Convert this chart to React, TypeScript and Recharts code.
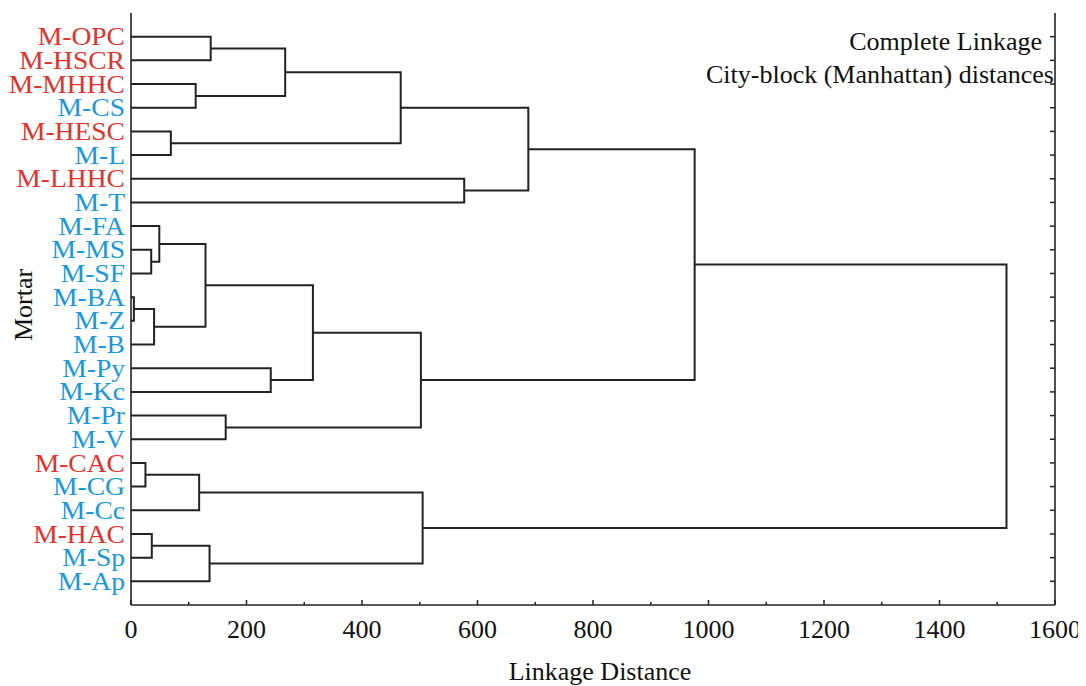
import React from "react";
import { ScatterChart, Scatter, XAxis, YAxis } from "recharts";

// 잎(leaf) 이름과 색 그룹 (r = 빨강, b = 파랑)
const leafNames = [
  "M-OPC", "M-HSCR", "M-MHHC", "M-CS", "M-HESC", "M-L", "M-LHHC", "M-T",
  "M-FA", "M-MS", "M-SF", "M-BA", "M-Z", "M-B", "M-Py", "M-Kc",
  "M-Pr", "M-V", "M-CAC", "M-CG", "M-Cc", "M-HAC", "M-Sp", "M-Ap",
];
const leafGroup = [
  "r", "r", "r", "b", "r", "b", "r", "b",
  "b", "b", "b", "b", "b", "b", "b", "b",
  "b", "b", "r", "b", "b", "r", "b", "b",
];

// 병합 단계: 노드 id 24부터 차례로 생성 (linkage 형식)
const mergeLeft = [11, 18, 9, 21, 24, 8, 4, 2, 25, 29, 27, 0, 16, 14, 35, 33, 38, 39, 32, 6, 40, 44, 45];
const mergeRight = [12, 19, 10, 22, 13, 26, 5, 3, 20, 28, 23, 1, 17, 15, 31, 37, 30, 36, 34, 7, 43, 41, 42];
const mergeHeight = [5, 25, 35, 36, 40, 49, 69, 112, 118, 129, 136, 138, 164, 242, 267, 315, 467, 502, 505, 577, 688, 976, 1516];

const xTicks = [0, 100, 200, 300, 400, 500, 600, 700, 800, 900, 1000, 1100, 1200, 1300, 1400, 1500, 1600];
const xLabeled = [0, 200, 400, 600, 800, 1000, 1200, 1400, 1600];
const yTicks = leafNames.map((_, i) => i + 1);

const groupColor: Record<string, string> = { r: "#e3322c", b: "#1a98dc" };
const FONT = '"Liberation Serif", "Times New Roman", serif';
const INK = "#222";

// 각 병합을 ㄷ자 선분 4점으로 변환
const nodeX: number[] = leafNames.map(() => 0);
const nodeY: number[] = leafNames.map((_, i) => i + 1);
const links = mergeHeight.map((h, k) => {
  const a = mergeLeft[k];
  const b = mergeRight[k];
  nodeX.push(h);
  nodeY.push((nodeY[a] + nodeY[b]) / 2);
  return [
    { x: nodeX[a], y: nodeY[a] },
    { x: h, y: nodeY[a] },
    { x: h, y: nodeY[b] },
    { x: nodeX[b], y: nodeY[b] },
  ];
});

const LeafTick = (props: any) => {
  const { x, y, payload } = props;
  const i = payload.value - 1;
  if (i < 0 || i >= leafNames.length) return <g />;
  return (
    <text
      transform={`translate(${x},${y}) scale(1.06,1)`}
      x={0}
      y={0}
      dy="0.33em"
      textAnchor="end"
      fontFamily={FONT}
      fontSize={26}
      fill={groupColor[leafGroup[i]]}
    >
      {leafNames[i]}
    </text>
  );
};

const BottomTick = (props: any) => {
  const { x, y, payload } = props;
  const major = xLabeled.includes(payload.value);
  return (
    <g>
      <line x1={x} x2={x} y1={y} y2={y - (major ? 5 : 3)} stroke={INK} strokeWidth={1.5} />
      {major && (
        <text x={x} y={y + 33} textAnchor="middle" fontFamily={FONT} fontSize={26} fill="#111">
          {payload.value}
        </text>
      )}
    </g>
  );
};

const TopTick = (props: any) => {
  const { x, y } = props;
  return <line x1={x} x2={x} y1={y} y2={y + 3} stroke={INK} strokeWidth={1.5} />;
};

const RightTick = (props: any) => {
  const { x, y } = props;
  return <line x1={x} x2={x - 5} y1={y} y2={y} stroke={INK} strokeWidth={1.5} />;
};

export default function App(): React.ReactElement {
  return (
    <div style={{ position: "relative", width: 1078, height: 678 }}>
      <ScatterChart width={1078} height={678} margin={{ top: 5, right: 30, bottom: 0, left: 0 }}>
        <XAxis
          type="number"
          dataKey="x"
          domain={[0, 1600]}
          ticks={xTicks}
          interval={0}
          allowDataOverflow
          height={81}
          tickSize={0}
          tickMargin={0}
          tickLine={false}
          axisLine={{ stroke: INK, strokeWidth: 1.6 }}
          tick={<BottomTick />}
          label={{
            content: () => (
              <text x={592} y={672} textAnchor="middle" fontFamily={FONT} fontSize={26} fill="#111">
                Linkage Distance
              </text>
            ),
          }}
        />
        <XAxis
          xAxisId="top"
          orientation="top"
          type="number"
          dataKey="x"
          domain={[0, 1600]}
          ticks={xTicks}
          interval={0}
          allowDataOverflow
          height={0}
          tickSize={0}
          tickMargin={0}
          tickLine={false}
          axisLine={{ stroke: INK, strokeWidth: 1.6 }}
          tick={<TopTick />}
        />
        <YAxis
          type="number"
          dataKey="y"
          domain={[0, 25]}
          reversed
          ticks={yTicks}
          interval={0}
          allowDataOverflow
          width={123}
          tickSize={0}
          tickMargin={6}
          tickLine={false}
          axisLine={{ stroke: INK, strokeWidth: 1.6 }}
          tick={<LeafTick />}
          label={{
            content: () => (
              <text
                x={15}
                y={297}
                transform="rotate(-90, 15, 297)"
                textAnchor="middle"
                dominantBaseline="central"
                fontFamily={FONT}
                fontSize={26}
                fill="#111"
              >
                Mortar
              </text>
            ),
          }}
        />
        <YAxis
          yAxisId="right"
          orientation="right"
          type="number"
          dataKey="y"
          domain={[0, 25]}
          reversed
          ticks={yTicks}
          interval={0}
          allowDataOverflow
          width={1}
          tickSize={0}
          tickMargin={0}
          tickLine={false}
          axisLine={{ stroke: INK, strokeWidth: 1.6 }}
          tick={<RightTick />}
        />
        {links.map((pts, k) => (
          <Scatter
            key={k}
            data={pts}
            line={{ stroke: INK, strokeWidth: 2 }}
            lineType="joint"
            shape={() => <g />}
            isAnimationActive={false}
          />
        ))}
      </ScatterChart>
      <svg width={1078} height={678} style={{ position: "absolute", left: 0, top: 0, pointerEvents: "none" }}>
        <text x={1034} y={42} textAnchor="end" fontFamily={FONT} fontSize={26} fill="#111">
          Complete Linkage
        </text>
        <text x={1046} y={75} textAnchor="end" fontFamily={FONT} fontSize={26} fill="#111">
          City-block (Manhattan) distances
        </text>
      </svg>
    </div>
  );
}
